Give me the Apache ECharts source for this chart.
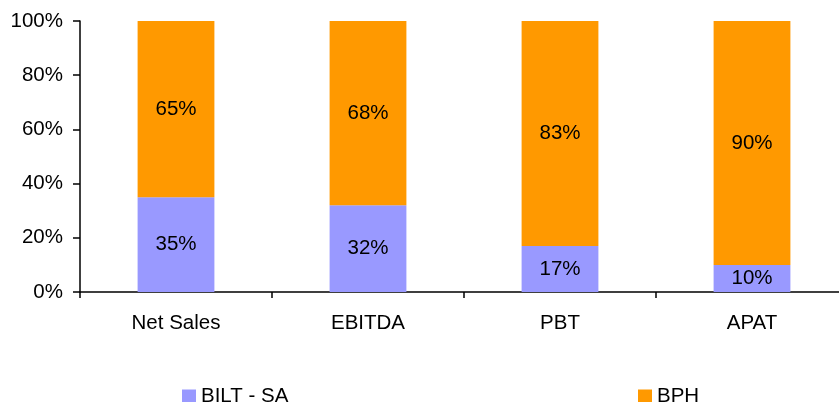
<!DOCTYPE html>
<html>
<head>
<meta charset="utf-8">
<script src="https://cdn.jsdelivr.net/npm/echarts@6/dist/echarts.min.js"></script>
<style>
  html, body { margin: 0; padding: 0; background: #fff; overflow: hidden; }
  /* the plot runs a little past the right edge of the window */
  #chart { width: 848px; height: 402px; }
</style>
</head>
<body>
<div id="chart"></div>
<script>
// Share of each metric: BILT standalone vs BPH
const categories = ['Net Sales', 'EBITDA', 'PBT', 'APAT'];
const biltSA = [35, 32, 17, 10];
const bph = [65, 68, 83, 90];
const yTicks = [0, 20, 40, 60, 80, 100];

const FONT = '"Liberation Sans", Arial, sans-serif';
const FS = 20.5;
const axisLine = { lineStyle: { color: '#000', width: 1.5 } };

const chart = echarts.init(document.getElementById('chart'), null, { renderer: 'canvas' });

const segLabel = {
  show: true,
  position: 'inside',
  formatter: '{c}%',
  color: '#000',
  fontFamily: FONT,
  fontSize: FS
};

chart.setOption({
  animation: false,
  backgroundColor: '#fff',
  textStyle: { fontFamily: FONT },
  grid: { left: 80, right: 0, top: 21, bottom: 110, containLabel: false },
  legend: [
    {
      data: ['BILT - SA'],
      left: 177, top: 381,
      itemWidth: 14, itemHeight: 14,
      icon: 'rect',
      textStyle: { fontFamily: FONT, fontSize: FS, color: '#000' }
    },
    {
      data: ['BPH'],
      left: 633, top: 381,
      itemWidth: 14, itemHeight: 14,
      icon: 'rect',
      textStyle: { fontFamily: FONT, fontSize: FS, color: '#000' }
    }
  ],
  xAxis: {
    type: 'category',
    data: categories,
    axisLine: axisLine,
    axisTick: { show: true, length: 6, interval: 0, alignWithLabel: false, lineStyle: { color: '#000', width: 1.5 } },
    axisLabel: { color: '#000', fontSize: FS, fontFamily: FONT, margin: 21, interval: 0 }
  },
  yAxis: {
    type: 'value',
    min: yTicks[0],
    max: yTicks[yTicks.length - 1],
    interval: yTicks[1] - yTicks[0],
    axisLine: { show: true, lineStyle: { color: '#000', width: 1.5 } },
    axisTick: { show: true, length: 7, lineStyle: { color: '#000', width: 1.5 } },
    splitLine: { show: false },
    axisLabel: { color: '#000', fontSize: FS, fontFamily: FONT, margin: 17, formatter: '{value}%' }
  },
  series: [
    {
      name: 'BILT - SA',
      type: 'bar',
      stack: 'share',
      data: biltSA,
      barWidth: '40%',
      itemStyle: { color: '#9999FF' },
      label: segLabel
    },
    {
      name: 'BPH',
      type: 'bar',
      stack: 'share',
      data: bph,
      barWidth: '40%',
      itemStyle: { color: '#FF9900' },
      label: segLabel
    }
  ]
});
</script>
</body>
</html>
